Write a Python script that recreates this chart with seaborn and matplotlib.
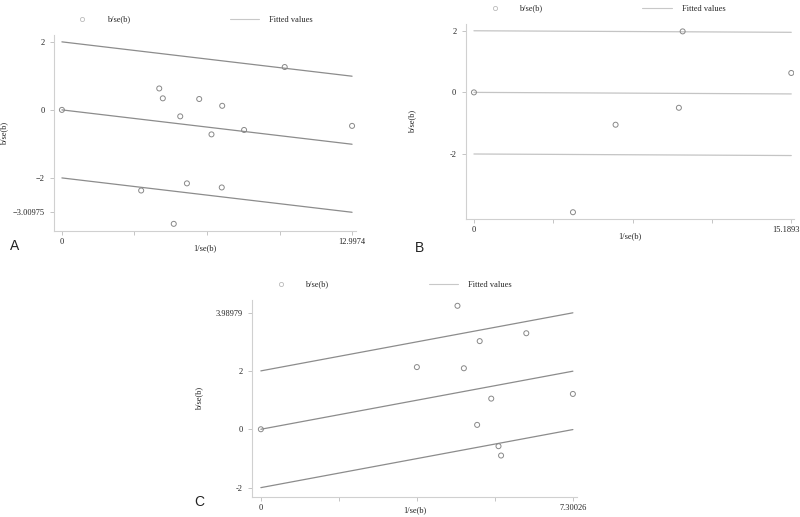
import seaborn as sns
import matplotlib.pyplot as plt
import matplotlib.transforms as mtransforms
from matplotlib.lines import Line2D

# panel A
a_x = [0, 4.36, 4.52, 5.30, 6.15, 7.18, 6.70, 8.16, 9.98, 12.9974, 3.55, 5.60, 7.16, 5.01]
a_y = [0, 0.63, 0.34, -0.19, 0.32, 0.12, -0.72, -0.59, 1.26, -0.47, -2.37, -2.16, -2.28, -3.35]
a_slope = -0.07769
a_xmax_label = "12.9974"

# panel B
b_x = [0, 9.99, 15.1893, 6.78, 9.81, 4.74]
b_y = [0, 1.98, 0.63, -1.05, -0.50, -3.89]
b_slope = -0.0033
b_xmax_label = "15.1893"

# panel C
c_x = [0, 3.65, 4.60, 4.75, 5.12, 6.21, 5.39, 5.06, 5.56, 5.62, 7.30026]
c_y = [0, 2.13, 4.23, 2.09, 3.02, 3.29, 1.05, 0.15, -0.58, -0.90, 1.21]
c_slope = 0.27256
c_xmax_label = "7.30026"

offsets = [2, 0, -2]

sns.set_theme(style="white")
plt.rcParams['font.family'] = ['Liberation Serif', 'DejaVu Serif']

fig = plt.figure(figsize=(8, 5.17), dpi=100)

panels = [
    # x, y, slope, axes rect, xlim, ylim, yticks, ytick labels, line colour, letter, letter pos, xlabel y, last label shift
    (a_x, a_y, a_slope, a_xmax_label, [0.0679, 0.5532, 0.377, 0.379], (-0.34, 13.17), (-3.56, 2.2),
     [2, 0, -2, -3.00975], ["2", "0", "\u22122", "\u22123.00975"], "#8c8c8c", "A", (0.012, 0.516), -0.066, 0),
    (b_x, b_y, b_slope, b_xmax_label, [0.5825, 0.577, 0.41, 0.3766], (-0.38, 15.32), (-4.10, 2.22),
     [2, 0, -2], ["2", "0", "-2"], "#c4c4c4", "B", (0.518, 0.512), -0.068, -5),
    (c_x, c_y, c_slope, c_xmax_label, [0.3154, 0.0393, 0.4055, 0.3805], (-0.20, 7.39), (-2.31, 4.43),
     [3.98979, 2, 0, -2], ["3.98979", "2", "0", "-2"], "#8c8c8c", "C", (0.243, 0.022), -0.047, 0),
]

for xs, ys, slope, xml, rect, xlim, ylim, yt, ytl, lc, letter, lpos, xly, shift in panels:
    ax = fig.add_axes(rect)
    xmax = max(xs)
    for off in offsets:
        sns.lineplot(x=[0, xmax], y=[off, off + slope * xmax], ax=ax, color=lc, lw=0.9)
    sns.scatterplot(x=xs, y=ys, ax=ax, marker="o", s=13, facecolor="none",
                    edgecolor="#888888", linewidth=0.7, zorder=3)
    ax.set_xlim(*xlim)
    ax.set_ylim(*ylim)
    ax.set_xticks([xmax * i / 4 for i in range(5)])
    ax.set_xticklabels(["0", "", "", "", xml])
    ax.set_yticks(yt)
    ax.set_yticklabels(ytl)
    ax.tick_params(labelsize=6, length=3, width=0.6, color="#bbbbbb", pad=2,
                   bottom=True, left=True, labelcolor="#222222")
    ax.tick_params(axis="y", pad=4)
    if shift:
        lab = ax.get_xticklabels()[-1]
        lab.set_transform(lab.get_transform() +
                          mtransforms.ScaledTranslation(shift / 100, 0, fig.dpi_scale_trans))
    sns.despine(ax=ax)
    for s in ["left", "bottom"]:
        ax.spines[s].set_color("#d0d0d0")
        ax.spines[s].set_linewidth(0.8)
    ax.set_xlabel("1/se(b)", fontsize=6, color="#222222")
    ax.set_ylabel("b/se(b)", fontsize=6, color="#222222")
    ax.xaxis.set_label_coords(0.5, xly)
    ax.yaxis.set_label_coords(-0.152, 0.5)
    handles = [
        Line2D([], [], marker="o", ls="none", mfc="none", mec="#bbbbbb", ms=3, mew=0.6),
        Line2D([], [], color="#c8c8c8", lw=0.8),
    ]
    ax.legend(handles, ["b/se(b)", "Fitted values"], ncol=2, frameon=False, fontsize=6,
              loc="lower left", bbox_to_anchor=(0.02, 1.02), columnspacing=12,
              handlelength=3.5, handletextpad=1.2)
    fig.text(lpos[0], lpos[1], letter, fontsize=10, family="Liberation Sans", color="#222222")

fig.savefig("out.png", dpi=100)
